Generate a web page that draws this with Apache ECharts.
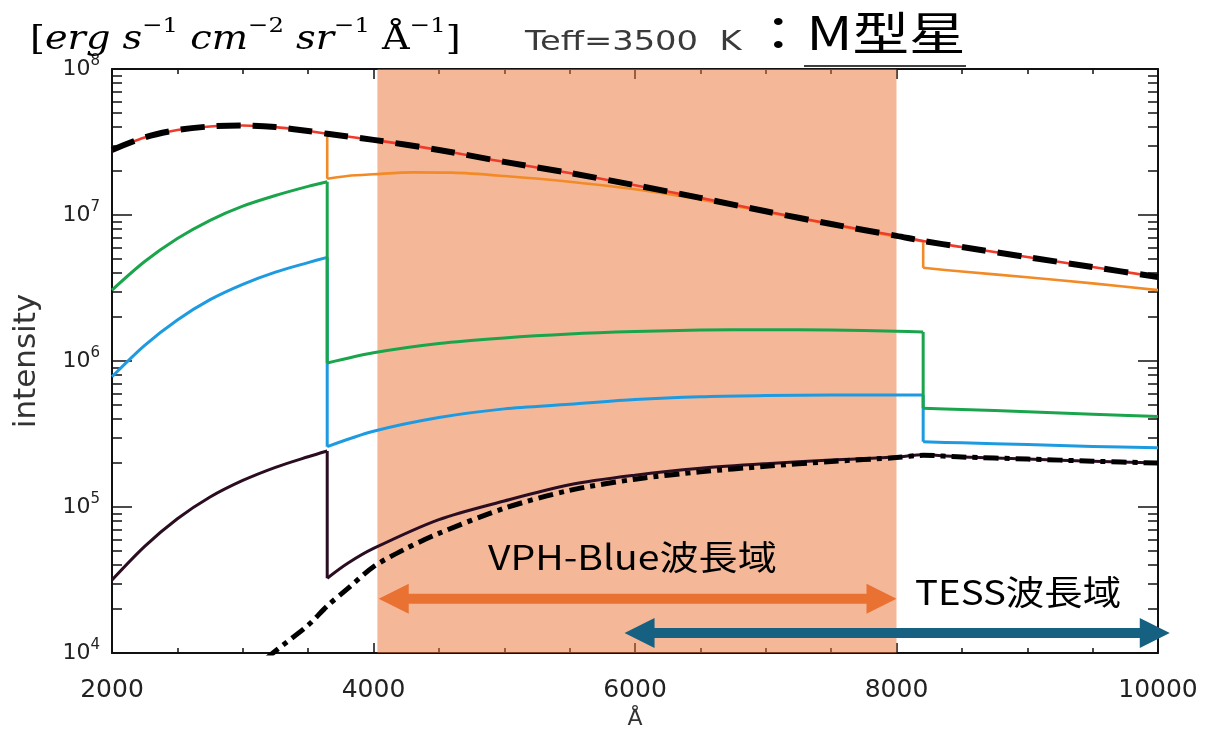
<!DOCTYPE html>
<html>
<head>
<meta charset="utf-8">
<script src="https://cdn.jsdelivr.net/npm/echarts@6/dist/echarts.min.js"></script>
<style>
  html, body { margin: 0; padding: 0; background: #fff; }
  #chart { width: 1206px; height: 729px; }
</style>
</head>
<body>
<div id="chart"></div>
<script>
// ---- Spectrum components for a Teff = 3500 K star (wavelength in Å, intensity) ----
const totalSpectrum = [
  [2000, 2.79e7], [2250, 3.4e7], [2500, 3.82e7], [2750, 4.04e7], [3000, 4.1e7],
  [3250, 4.0e7], [3500, 3.76e7], [3646, 3.6e7], [4000, 3.27e7], [4500, 2.79e7],
  [5000, 2.31e7], [5500, 1.94e7], [6000, 1.6e7], [6500, 1.31e7], [7000, 1.06e7],
  [7500, 8.67e6], [8000, 7.2e6], [8204, 6.64e6], [8500, 6.03e6], [9000, 5.15e6],
  [9500, 4.4e6], [10000, 3.76e6]
];
const orangeComponent = [
  [3646, 3.6e7], [3646, 1.77e7], [3800, 1.85e7], [4000, 1.9e7], [4300, 1.96e7],
  [4600, 1.95e7], [5000, 1.85e7], [5500, 1.69e7], [6000, 1.5e7], [6500, 1.28e7],
  [7000, 1.05e7], [7500, 8.6e6], [8000, 7.1e6], [8204, 6.6e6], [8204, 4.35e6],
  [8500, 4.1e6], [9000, 3.75e6], [9500, 3.4e6], [10000, 3.06e6]
];
const greenComponent = [
  [2000, 3.06e6], [2250, 4.8e6], [2500, 6.9e6], [2750, 9.2e6], [3000, 1.15e7],
  [3250, 1.36e7], [3500, 1.57e7], [3646, 1.69e7], [3646, 9.7e5], [4000, 1.14e6],
  [4500, 1.32e6], [5000, 1.44e6], [5500, 1.53e6], [6000, 1.59e6], [6500, 1.63e6],
  [7000, 1.64e6], [7500, 1.63e6], [8000, 1.6e6], [8204, 1.58e6], [8204, 4.75e5],
  [8500, 4.65e5], [9000, 4.5e5], [9500, 4.32e5], [10000, 4.16e5]
];
const blueComponent = [
  [2000, 7.8e5], [2250, 1.28e6], [2500, 1.91e6], [2750, 2.63e6], [3000, 3.35e6],
  [3250, 4.06e6], [3500, 4.72e6], [3646, 5.13e6], [3646, 2.59e5], [4000, 3.3e5],
  [4500, 4.1e5], [5000, 4.7e5], [5500, 5.05e5], [6000, 5.45e5], [6500, 5.7e5],
  [7000, 5.8e5], [7500, 5.85e5], [8000, 5.85e5], [8204, 5.85e5], [8204, 2.8e5],
  [8500, 2.75e5], [9000, 2.68e5], [9500, 2.6e5], [10000, 2.55e5]
];
const darkComponent = [
  [2000, 3.16e4], [2250, 5.37e4], [2500, 8.3e4], [2750, 1.17e5], [3000, 1.52e5],
  [3250, 1.87e5], [3500, 2.21e5], [3646, 2.42e5], [3646, 3.25e4], [3800, 4.1e4],
  [4000, 5.2e4], [4500, 8.2e4], [5000, 1.1e5], [5500, 1.42e5], [6000, 1.65e5],
  [6500, 1.84e5], [7000, 1.98e5], [7500, 2.1e5], [8000, 2.2e5], [8204, 2.28e5],
  [8500, 2.2e5], [9000, 2.13e5], [9500, 2.06e5], [10000, 2.0e5]
];
const blackbodyTail = [
  [3000, 6.6e3], [3231, 1.0e4], [3500, 1.55e4], [3646, 2.1e4], [3800, 2.75e4],
  [4000, 3.9e4], [4250, 5.2e4], [4500, 6.6e4], [5000, 9.8e4], [5500, 1.3e5],
  [6000, 1.55e5], [6500, 1.74e5], [7000, 1.9e5], [7500, 2.05e5], [8000, 2.18e5],
  [8204, 2.26e5], [8500, 2.2e5], [9000, 2.13e5], [9500, 2.06e5], [10000, 2.0e5]
];

// Wavelength bands (Å)
const vphBlueBand = [4030, 8000];
const vphBlueArrow = [4040, 8000];
const tessArrow = [5920, 10090];

// Axis ticks
const xTicks = [2000, 4000, 6000, 8000, 10000];
const yDecades = [1e4, 1e5, 1e6, 1e7, 1e8];
const yMinorTicks = [];
for (const d of [1e4, 1e5, 1e6, 1e7]) {
  for (let m = 2; m <= 9; m++) yMinorTicks.push(m * d);
}

const SANS = '"DejaVu Sans", "Liberation Sans", sans-serif';
const JP = '"Noto Sans CJK JP", sans-serif';
const SERIF = '"DejaVu Serif", "Liberation Serif", serif';

const chart = echarts.init(document.getElementById('chart'), null, { renderer: 'canvas' });

// Break a curve at its vertical jumps (two points sharing a wavelength)
function splitAtJumps(data) {
  const pieces = [];
  let cur = [data[0]];
  for (let i = 1; i < data.length; i++) {
    if (data[i][0] === data[i - 1][0]) {
      pieces.push({ pts: cur, smooth: true });
      pieces.push({ pts: [data[i - 1], data[i]], smooth: false });
      cur = [data[i]];
    } else {
      cur.push(data[i]);
    }
  }
  pieces.push({ pts: cur, smooth: true });
  return pieces.filter(p => p.pts.length > 1);
}

function curveSeries(name, data, color, width, type, z) {
  return splitAtJumps(data).map((p, k) => ({
    name: name + '-' + k, type: 'line', data: p.pts, symbol: 'none',
    smooth: p.smooth ? 0.3 : false,
    xAxisIndex: 0, yAxisIndex: 0, z: z || 2, animation: false,
    lineStyle: { color, width, type: type || 'solid', cap: 'butt', join: 'miter' }
  }));
}

// Double-headed horizontal arrow spanning [x0, x1] at a fixed intensity level
function arrowRenderer(color, level, shaft, headLen, headHalf) {
  return function (params, api) {
    const a = api.coord([api.value(0), level]);
    const b = api.coord([api.value(1), level]);
    const y = a[1], t = shaft / 2;
    const ax = a[0], bx = b[0];
    return {
      type: 'polygon',
      shape: {
        points: [
          [ax, y], [ax + headLen, y - headHalf], [ax + headLen, y - t],
          [bx - headLen, y - t], [bx - headLen, y - headHalf], [bx, y],
          [bx - headLen, y + headHalf], [bx - headLen, y + t],
          [ax + headLen, y + t], [ax + headLen, y + headHalf]
        ]
      },
      style: { fill: color }
    };
  };
}

const axisLineStyle = { color: '#111', width: 2 };
const tickStyle = { color: '#111', width: 1.5 };

const option = {
  backgroundColor: '#fff',
  animation: false,
  grid: {
    left: 112, right: 48, top: 69, bottom: 76,
    containLabel: false, outerBoundsMode: 'none'
  },
  xAxis: [
    {
      type: 'value', position: 'bottom', min: 2000, max: 10000, interval: 2000,
      name: 'Å', nameLocation: 'middle', nameGap: 54,
      nameTextStyle: { fontFamily: SANS, fontSize: 22, color: '#333' },
      axisLine: { show: true, onZero: false, lineStyle: axisLineStyle },
      axisTick: { show: true, inside: true, length: 10, lineStyle: tickStyle },
      minorTick: { show: true, splitNumber: 4, length: 5, lineStyle: tickStyle },
      axisLabel: {
        fontFamily: SANS, fontSize: 25, color: '#222', margin: 25,
        customValues: xTicks, formatter: v => String(v)
      },
      splitLine: { show: false }
    },
    {
      type: 'value', position: 'top', min: 2000, max: 10000, interval: 2000,
      axisLine: { show: true, onZero: false, lineStyle: axisLineStyle },
      axisTick: { show: true, inside: true, length: 10, lineStyle: tickStyle },
      minorTick: { show: true, splitNumber: 4, length: 5, lineStyle: tickStyle },
      axisLabel: { show: false }, splitLine: { show: false }
    }
  ],
  yAxis: [
    {
      type: 'log', logBase: 10, min: 1e4, max: 1e8, position: 'left',
      name: 'intensity', nameLocation: 'middle', nameGap: 70,
      nameTextStyle: { fontFamily: SANS, fontSize: 31, color: '#333' },
      axisLine: { show: true, onZero: false, lineStyle: axisLineStyle },
      axisTick: { show: true, inside: true, length: 20, lineStyle: tickStyle },
      axisLabel: {
        margin: 12, customValues: yDecades,
        formatter: v => '{b|10}{s|' + Math.round(Math.log10(v)) + '}',
        rich: {
          b: { fontFamily: SANS, fontSize: 22, color: '#222', lineHeight: 30 },
          s: { fontFamily: SANS, fontSize: 15, color: '#222', lineHeight: 16, verticalAlign: 'top' }
        }
      },
      splitLine: { show: false }
    },
    {
      type: 'log', logBase: 10, min: 1e4, max: 1e8, position: 'right',
      axisLine: { show: true, onZero: false, lineStyle: axisLineStyle },
      axisTick: { show: true, inside: true, length: 20, lineStyle: tickStyle },
      axisLabel: { show: false }, splitLine: { show: false }
    },
    {
      type: 'log', logBase: 10, min: 1e4, max: 1e8, position: 'left',
      axisLine: { show: false },
      axisTick: { show: true, inside: true, length: 10, customValues: yMinorTicks, lineStyle: tickStyle },
      axisLabel: { show: false }, splitLine: { show: false }
    },
    {
      type: 'log', logBase: 10, min: 1e4, max: 1e8, position: 'right',
      axisLine: { show: false },
      axisTick: { show: true, inside: true, length: 10, customValues: yMinorTicks, lineStyle: tickStyle },
      axisLabel: { show: false }, splitLine: { show: false }
    }
  ],
  series: [
    ...curveSeries('dark', darkComponent, '#2b0d22', 3, 'solid', 2),
    ...curveSeries('blackbody', blackbodyTail, '#000', 5, [15, 6, 5, 6], 3),
    ...curveSeries('blue', blueComponent, '#1e9be0', 3, 'solid', 2),
    ...curveSeries('green', greenComponent, '#1aa54c', 3, 'solid', 2),
    ...curveSeries('orange', orangeComponent, '#f28a26', 2.6, 'solid', 2),
    ...curveSeries('total', totalSpectrum, '#ee3b2b', 2.6, 'solid', 3),
    ...curveSeries('totalDashed', totalSpectrum, '#000', 6, [24, 12], 4),
    {
      name: 'band', type: 'line', data: [], xAxisIndex: 0, yAxisIndex: 0, z: 6,
      markArea: {
        silent: true,
        itemStyle: { color: 'rgba(233,113,50,0.5)' },
        data: [[{ xAxis: vphBlueBand[0], yAxis: 1e8 }, { xAxis: vphBlueBand[1], yAxis: 1e4 }]]
      }
    },
    {
      name: 'vphArrow', type: 'custom', coordinateSystem: 'cartesian2d', clip: false, z: 8,
      xAxisIndex: 0, yAxisIndex: 0, encode: { x: [0, 1] },
      data: [vphBlueArrow],
      renderItem: arrowRenderer('#e97132', 2.35e4, 10, 30, 15)
    },
    {
      name: 'tessArrow', type: 'custom', coordinateSystem: 'cartesian2d', clip: false, z: 8,
      xAxisIndex: 0, yAxisIndex: 0, encode: { x: [0, 1] },
      data: [tessArrow],
      renderItem: arrowRenderer('#166082', 1.37e4, 10, 30, 15)
    }
  ],
  graphic: [
    {
      type: 'text', x: 30, y: 16, scaleX: 1.16, z: 20,
      style: {
        text: '{u|[}{i|erg s}{s|−1}{i| cm}{s|−2}{i| sr}{s|−1}{u| Å}{s|−1}{u|]}',
        verticalAlign: 'top',
        rich: {
          u: { fontFamily: SERIF, fontSize: 33, lineHeight: 48, fill: '#000' },
          i: { fontFamily: SERIF, fontStyle: 'italic', fontSize: 33, lineHeight: 48, fill: '#000' },
          s: { fontFamily: SERIF, fontSize: 21, lineHeight: 24, verticalAlign: 'top', fill: '#000' }
        }
      }
    },
    {
      type: 'text', x: 525, y: 29, scaleX: 1.25, z: 20,
      style: { text: 'Teff=3500  K', fontFamily: SANS, fontSize: 27, fill: '#3a3a3a', verticalAlign: 'top' }
    },
    {
      type: 'text', x: 750, y: 10, scaleX: 1.23, z: 20,
      style: { text: '：M型星', fontFamily: JP, fontSize: 46, fill: '#000', verticalAlign: 'top' }
    },
    {
      type: 'line', z: 20,
      shape: { x1: 804, y1: 66, x2: 966, y2: 66 },
      style: { stroke: '#000', lineWidth: 1.6 }
    },
    {
      type: 'text', x: 488, y: 540, scaleX: 1.15, z: 20,
      style: { text: 'VPH-Blue波長域', fontFamily: JP, fontSize: 34, fill: '#000', verticalAlign: 'top' }
    },
    {
      type: 'text', x: 915, y: 575, scaleX: 1.13, z: 20,
      style: { text: 'TESS波長域', fontFamily: JP, fontSize: 34, fill: '#000', verticalAlign: 'top' }
    }
  ]
};

chart.setOption(option);
</script>
</body>
</html>
